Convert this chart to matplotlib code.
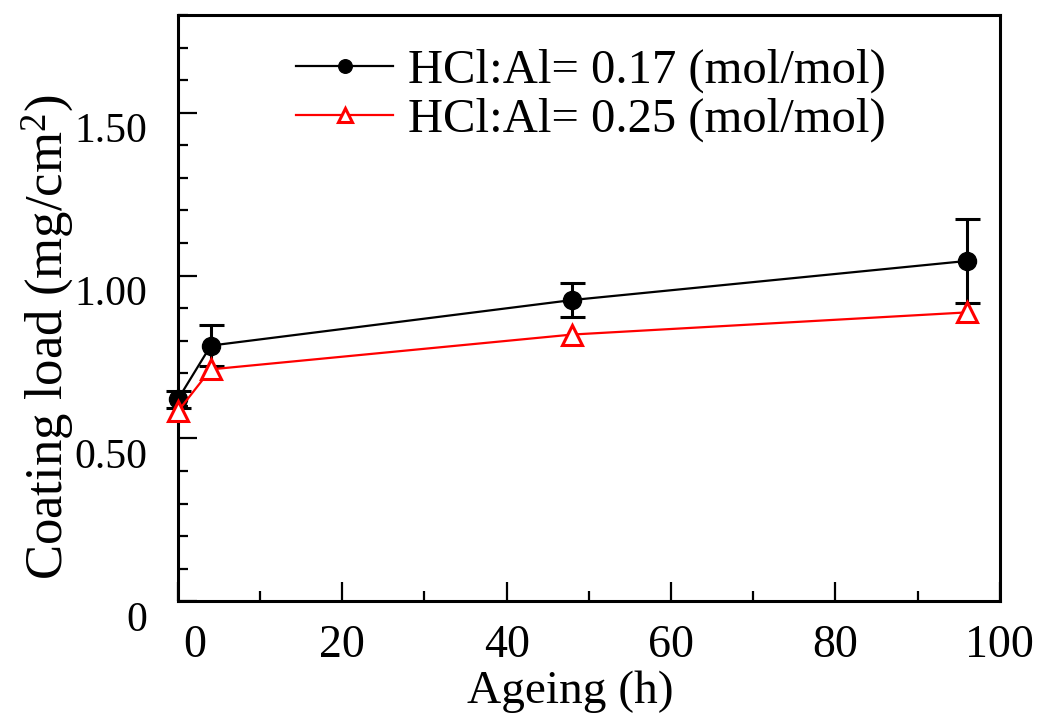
import numpy as np
import matplotlib
matplotlib.use("Agg")
import matplotlib.pyplot as plt
from matplotlib.ticker import MultipleLocator, FixedLocator
import matplotlib.transforms as mtransforms

# data
ageing_h = [0, 4, 48, 96]
load_017 = [0.62, 0.785, 0.925, 1.045]
err_017 = [0.027, 0.062, 0.052, 0.128]
load_025 = [0.583, 0.712, 0.819, 0.887]
y_ticks = [0, 0.5, 1.0, 1.5]
y_tick_labels = ["0", "0.50", "1.00", "1.50"]

plt.rcParams["font.family"] = ["Liberation Serif", "DejaVu Serif"]
plt.rcParams["mathtext.fontset"] = "custom"
plt.rcParams["mathtext.rm"] = "Liberation Serif"
plt.rcParams["mathtext.it"] = "Liberation Serif:italic"

fig = plt.figure(figsize=(10.59, 7.2), dpi=100)
ax = fig.add_axes([0.168, 0.165, 0.776, 0.814])

ax.errorbar(ageing_h, load_017, yerr=err_017, fmt="none", ecolor="black",
            capsize=9, capthick=2.2, elinewidth=2.2, clip_on=False, zorder=3)
line1, = ax.plot(ageing_h, load_017, color="black", lw=1.6, marker="o", markersize=13,
                 label="HCl:Al= 0.17 (mol/mol)", clip_on=False, zorder=3)
line2, = ax.plot(ageing_h, load_025, color="red", lw=1.6, marker="^", markersize=14,
                 markerfacecolor="white", markeredgecolor="red", markeredgewidth=2.2,
                 label="HCl:Al= 0.25 (mol/mol)", clip_on=False, zorder=4)

ax.set_xlim(0, 100)
ax.set_ylim(0, 1.8)
ax.xaxis.set_major_locator(FixedLocator([0, 20, 40, 60, 80, 100]))
ax.xaxis.set_minor_locator(MultipleLocator(10))
ax.yaxis.set_minor_locator(MultipleLocator(0.1))

for s in ax.spines.values():
    s.set_linewidth(2.2)
ax.tick_params(which="both", direction="in", top=False, right=False, width=1.6)
ax.tick_params(which="major", length=14)
ax.tick_params(axis="x", which="major", pad=17, labelsize=33)
ax.tick_params(axis="y", which="major", pad=22, labelsize=30)
ax.tick_params(which="minor", length=7)
ax.set_yticks(y_ticks)
ax.set_yticklabels(y_tick_labels, va="top")

ax.set_xlabel("Ageing (h)", fontsize=34)
ax.set_ylabel("Coating load (mg/cm$^{2}$)", fontsize=38)
ax.xaxis.set_label_coords(0.477, -0.118)
ax.yaxis.set_label_coords(-0.124, 0.45)

ax.legend(handles=[line1, line2], loc="upper left", bbox_to_anchor=(0.144, 0.943),
          frameon=False, fontsize=35, handlelength=2.0, handletextpad=0.3,
          labelspacing=0.1, borderpad=0, borderaxespad=0, markerscale=0.75)

fig.canvas.draw()
# the "0" on the x axis is nudged right, clear of the y axis "0"
t0 = ax.xaxis.get_major_ticks()[0]
t0.label1.set_transform(t0.label1.get_transform()
                        + mtransforms.ScaledTranslation(0.17, 0, fig.dpi_scale_trans))

fig.savefig("out.png", dpi=100)
